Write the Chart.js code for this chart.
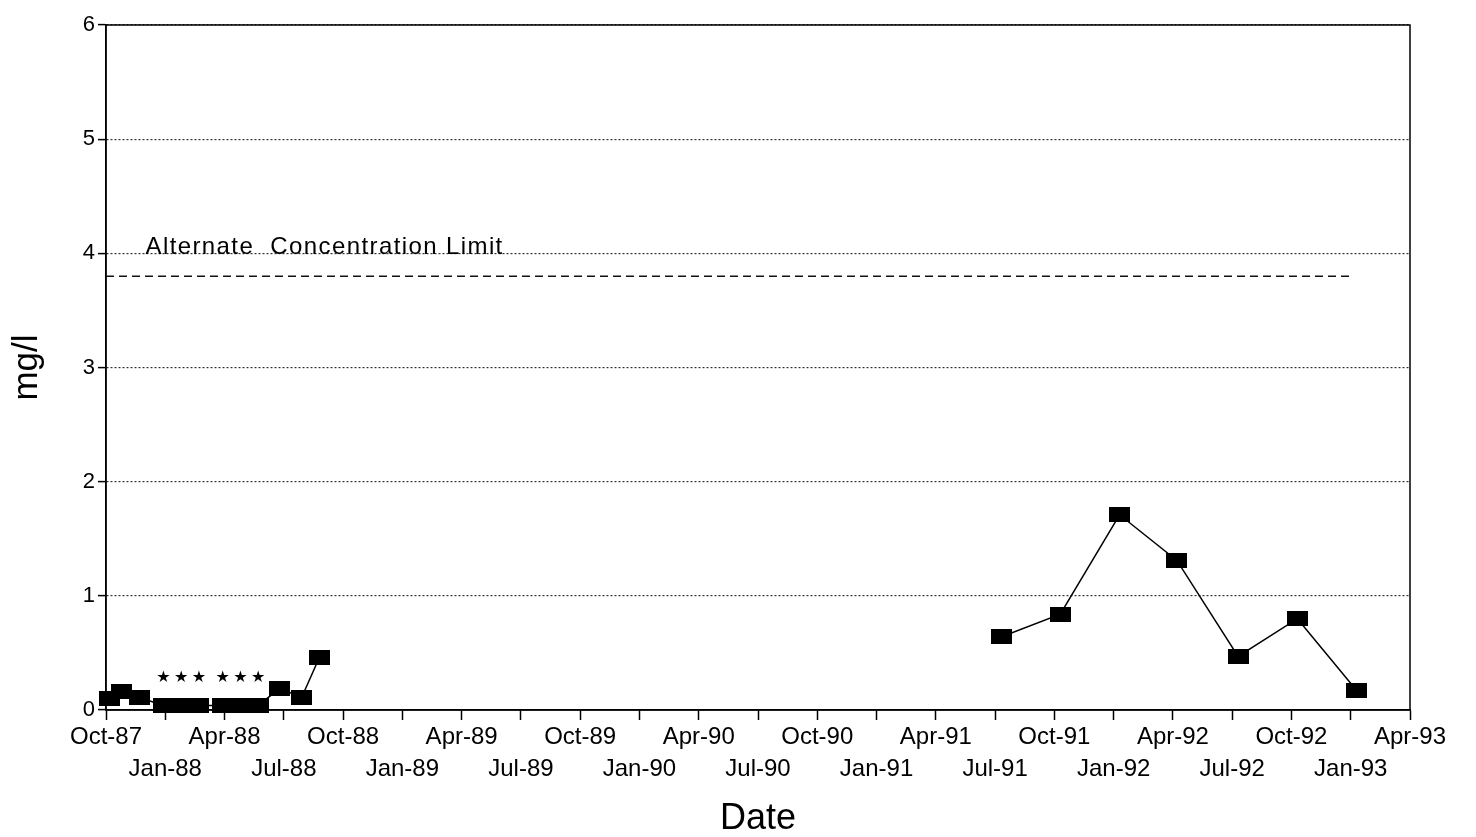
<!DOCTYPE html>
<html>
<head>
<meta charset="utf-8">
<title>mg/l by Date</title>
<script src="https://cdn.jsdelivr.net/npm/chart.js@4/dist/chart.umd.min.js"></script>
<style>
  html, body { margin: 0; padding: 0; background: #ffffff; }
  canvas { display: block; }
</style>
</head>
<body>
<canvas id="chart" width="1476" height="837"></canvas>
<script>
// Sample times are months after October 1987 (0 = Oct-87).
const earlyMonths = [0.2, 0.8, 1.7, 2.9, 3.8, 4.7, 5.9, 6.8, 7.7, 8.8, 9.9, 10.8];
const earlyValues = [0.10, 0.16, 0.11, 0.04, 0.04, 0.04, 0.04, 0.04, 0.04, 0.19, 0.11, 0.46];
// Samples reported below the detection limit (marked with a star).
const earlyBelowDetection = [false, false, false, true, true, true, true, true, true, false, false, false];

const lateMonths = [45.3, 48.3, 51.3, 54.2, 57.3, 60.3, 63.3];
const lateValues = [0.64, 0.84, 1.71, 1.31, 0.47, 0.80, 0.17];

// Alternate Concentration Limit
const aclValue = 3.8;
const aclMonths = [0, 63];
const aclLabel = 'Alternate  Concentration Limit';

// Quarterly tick labels from Oct-87 to Apr-93
const tickLabels = ['Oct-87', 'Jan-88', 'Apr-88', 'Jul-88', 'Oct-88', 'Jan-89', 'Apr-89', 'Jul-89',
  'Oct-89', 'Jan-90', 'Apr-90', 'Jul-90', 'Oct-90', 'Jan-91', 'Apr-91', 'Jul-91',
  'Oct-91', 'Jan-92', 'Apr-92', 'Jul-92', 'Oct-92', 'Jan-93', 'Apr-93'];
const yTicks = [0, 1, 2, 3, 4, 5, 6];

const FONT = '"Liberation Sans", Arial, Helvetica, sans-serif';

// Solid black rectangular marker
function makeMarker(w, h) {
  const c = document.createElement('canvas');
  c.width = w; c.height = h;
  const g = c.getContext('2d');
  g.fillStyle = '#000';
  g.fillRect(0, 0, w, h);
  return c;
}
const marker = makeMarker(21, 15);

const toPoints = (xs, ys) => xs.map((x, i) => ({ x: x, y: ys[i] }));

// Solid frame round the plotting area
const framePlugin = {
  id: 'frame',
  beforeDatasetsDraw(chart) {
    const { ctx, chartArea: a } = chart;
    ctx.save();
    ctx.strokeStyle = '#000';
    ctx.lineWidth = 1.5;
    ctx.setLineDash([]);
    ctx.strokeRect(a.left, a.top, a.right - a.left, a.bottom - a.top);
    ctx.restore();
  }
};

// Label for the concentration limit line
const aclLabelPlugin = {
  id: 'aclLabel',
  afterDatasetsDraw(chart) {
    const { ctx, scales } = chart;
    ctx.save();
    ctx.font = '24px ' + FONT;
    ctx.letterSpacing = '1.4px';
    ctx.fillStyle = '#000';
    ctx.textBaseline = 'middle';
    ctx.textAlign = 'left';
    ctx.fillText(aclLabel, scales.x.getPixelForValue(2.0), scales.y.getPixelForValue(4.05));
    ctx.restore();
  }
};

// Stars above samples below detection
const starPlugin = {
  id: 'stars',
  afterDatasetsDraw(chart) {
    const { ctx } = chart;
    const meta = chart.getDatasetMeta(0);
    ctx.save();
    ctx.font = '16px "DejaVu Sans", sans-serif';
    ctx.fillStyle = '#000';
    ctx.textAlign = 'center';
    ctx.textBaseline = 'middle';
    meta.data.forEach((pt, i) => {
      if (earlyBelowDetection[i]) ctx.fillText('\u2605', pt.x, pt.y - 28);
    });
    ctx.restore();
  }
};

new Chart(document.getElementById('chart'), {
  type: 'line',
  data: {
    datasets: [
      {
        data: toPoints(earlyMonths, earlyValues),
        borderColor: '#000', borderWidth: 1.5,
        pointStyle: marker, pointRadius: 8,
        fill: false, tension: 0, clip: false
      },
      {
        data: toPoints(lateMonths, lateValues),
        borderColor: '#000', borderWidth: 1.5,
        pointStyle: marker, pointRadius: 8,
        fill: false, tension: 0, clip: false
      },
      {
        data: aclMonths.map(m => ({ x: m, y: aclValue })),
        borderColor: '#111', borderWidth: 1.5,
        borderDash: [8, 5],
        pointRadius: 0, fill: false
      }
    ]
  },
  options: {
    responsive: false,
    animation: false,
    events: [],
    layout: { padding: { top: 25, right: 66, left: 0, bottom: 0 } },
    plugins: { legend: { display: false }, tooltip: { enabled: false } },
    scales: {
      x: {
        type: 'linear',
        min: 0, max: 66,
        afterFit(scale) { scale.height = 127; },
        afterBuildTicks(scale) {
          scale.ticks = tickLabels.map((_, i) => ({ value: i * 3 }));
        },
        ticks: {
          autoSkip: false, maxRotation: 0, minRotation: 0,
          padding: 1,
          color: '#000',
          font: { family: FONT, size: 24, lineHeight: 1.35 },
          callback(value) {
            const i = Math.round(value / 3);
            const label = tickLabels[i];
            return i % 2 === 0 ? [label, ''] : ['', label];
          }
        },
        grid: {
          drawOnChartArea: false, drawTicks: true,
          tickLength: 10, tickColor: '#000', tickWidth: 1.5
        },
        border: { display: true, color: '#000', width: 1.5 },
        title: {
          display: true, text: 'Date', color: '#000',
          font: { family: FONT, size: 36, lineHeight: 1.0 },
          padding: 0
        }
      },
      y: {
        min: 0, max: 6,
        afterFit(scale) { scale.width = 106; },
        afterBuildTicks(scale) {
          scale.ticks = yTicks.map(v => ({ value: v }));
        },
        ticks: {
          padding: 3, color: '#000',
          font: { family: FONT, size: 22 }
        },
        grid: {
          color: '#333', lineWidth: 1.2,
          tickLength: 8, tickColor: '#000', tickWidth: 1.5,
          tickBorderDash: []
        },
        border: { display: true, color: '#000', width: 1.5, dash: [2, 2] },
        title: {
          display: true, text: 'mg/l', color: '#000',
          font: { family: FONT, size: 35, lineHeight: 1.2 },
          padding: 6
        }
      }
    }
  },
  plugins: [framePlugin, aclLabelPlugin, starPlugin]
});
</script>
</body>
</html>
